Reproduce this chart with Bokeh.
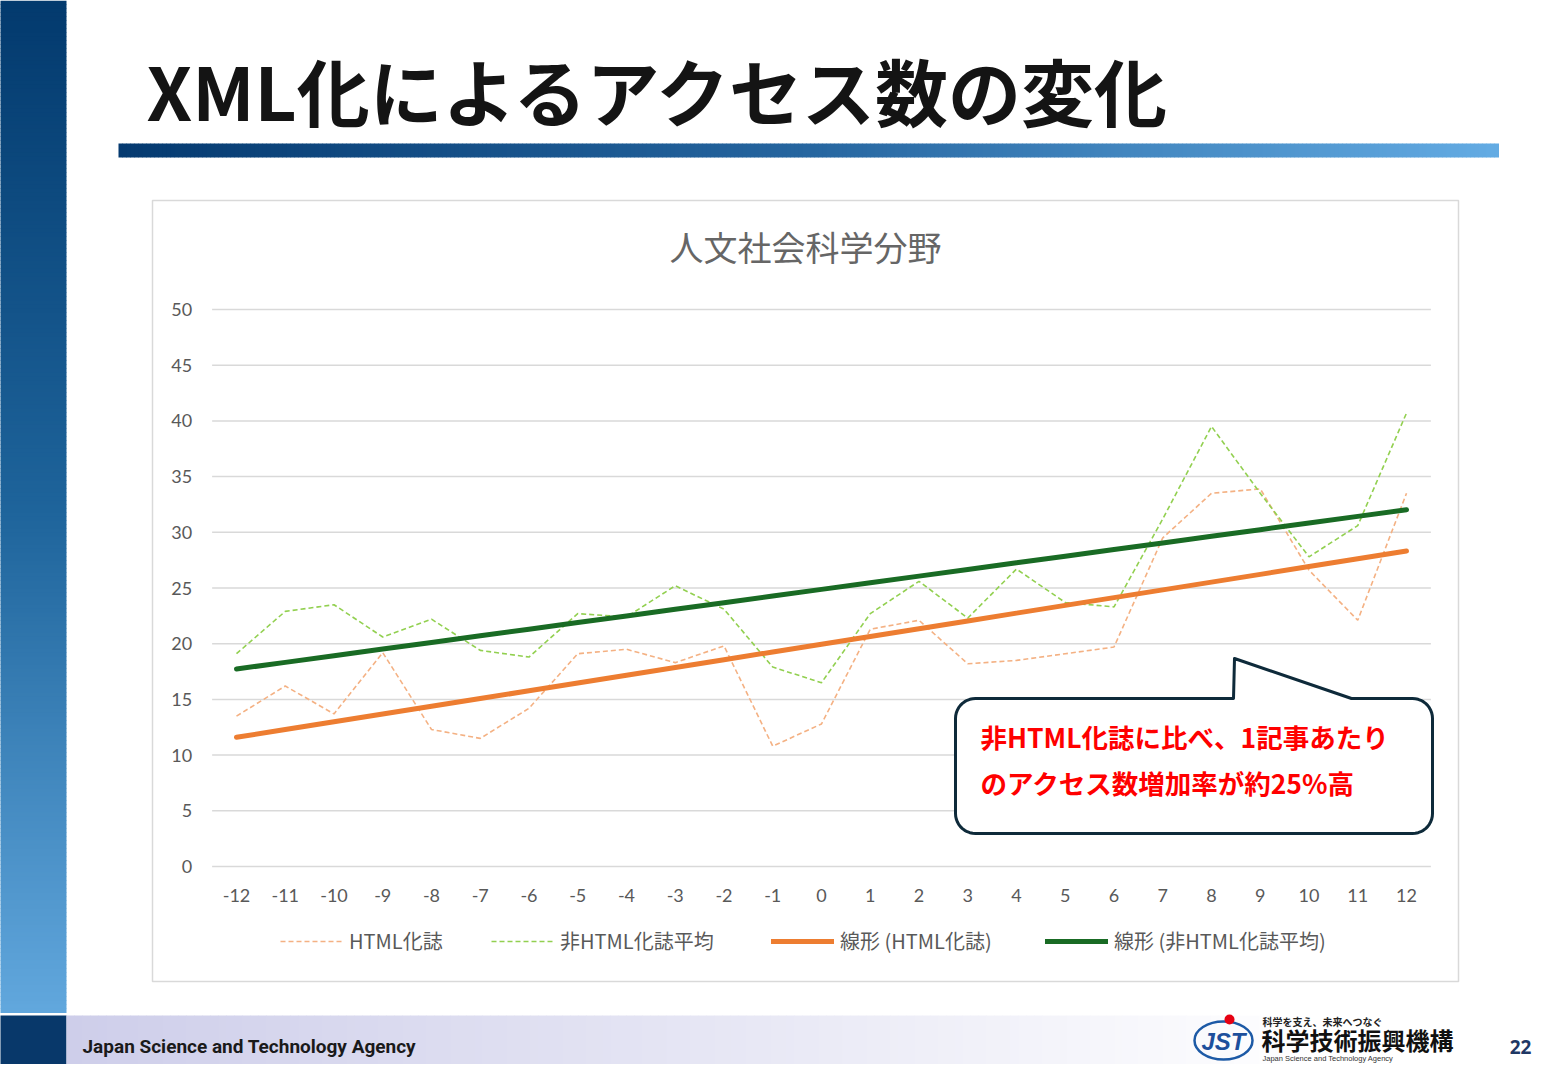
import numpy as np
from bokeh.plotting import figure
from bokeh.models import Range1d, Legend, LegendItem
from bokeh.core.properties import value
from bokeh.embed import file_html
from bokeh.resources import INLINE

# ---------------- data ----------------
months = list(range(-12, 13))
html_journals = [13.5, 16.2, 13.7, 19.2, 12.3, 11.5, 14.2, 19.1, 19.5, 18.3, 19.8, 10.8, 12.8,
                 21.3, 22.1, 18.2, 18.5, 19.1, 19.7, 29.5, 33.5, 33.9, 26.6, 22.1, 33.5]
non_html_avg = [19.1, 22.9, 23.5, 20.6, 22.2, 19.4, 18.8, 22.7, 22.4, 25.2, 23.1, 17.9, 16.5,
                22.7, 25.6, 22.3, 26.7, 23.7, 23.3, 31.2, 39.5, 33.5, 27.8, 30.6, 40.7]
y_ticks = [0, 5, 10, 15, 20, 25, 30, 35, 40, 45, 50]
x_tick_labels = [str(m) for m in months]
series_names = ["HTML化誌", "非HTML化誌平均", "線形 (HTML化誌)", "線形 (非HTML化誌平均)"]
slide_title = "XML化によるアクセス数の変化"
chart_title = "人文社会科学分野"
callout_lines = ["非HTML化誌に比べ、1記事あたり", "のアクセス数増加率が約25%高"]

# linear trend lines (Excel "線形" trendline)
fit_html = np.polyfit(months, html_journals, 1)
fit_non = np.polyfit(months, non_html_avg, 1)
trend_html = list(np.polyval(fit_html, months))
trend_non = list(np.polyval(fit_non, months))

# ---------------- layout constants (slide pixels) ----------------
W, H = 1544, 1064          # canvas
OFF = 0                    # canvas origin in slide pixels
X_FIRST, X_LAST = 236, 1406   # pixel of first / last category
Y_ZERO, Y_TOP = 866, 309      # pixel of y=0 and y=50
px_per_x = (X_LAST - X_FIRST) / (months[-1] - months[0])
px_per_y = (Y_ZERO - Y_TOP) / (y_ticks[-1] - y_ticks[0])

x_start = months[0] - (X_FIRST - OFF) / px_per_x
x_end = months[-1] + (OFF + W - X_LAST) / px_per_x
y_start = 0 - (OFF + H - Y_ZERO) / px_per_y
y_end = 0 + (Y_ZERO - OFF) / px_per_y

p = figure(width=W, height=H, output_backend="svg", toolbar_location=None,
           x_axis_location=None, y_axis_location=None, min_border=0,
           x_range=Range1d(x_start, x_end), y_range=Range1d(y_start, y_end))
p.outline_line_color = None
p.background_fill_color = "white"
p.border_fill_color = "white"
p.xgrid.grid_line_color = None
p.ygrid.grid_line_color = None
p.extra_x_ranges = {"px": Range1d(OFF, OFF + W)}
p.extra_y_ranges = {"py": Range1d(OFF + H, OFF)}
PX = dict(x_range_name="px", y_range_name="py")

JP_NAME = "Noto Sans CJK JP"
JP = value(JP_NAME)


def lerp_colors(stops, t):
    t = np.clip(t, 0, 1)
    for i in range(len(stops) - 1):
        t0, c0 = stops[i]
        t1, c1 = stops[i + 1]
        if t <= t1:
            f = (t - t0) / (t1 - t0) if t1 > t0 else 0
            c = [int(round(c0[k] + (c1[k] - c0[k]) * f)) for k in range(3)]
            return "#%02x%02x%02x" % tuple(c)
    c = stops[-1][1]
    return "#%02x%02x%02x" % tuple(c)


# ---------------- slide decorations ----------------
# left sidebar (vertical gradient)
side_stops = [(0.0, (3, 58, 110)), (0.5, (30, 100, 155)), (1.0, (98, 168, 222))]
edges = np.arange(0, 1016, 4)
p.quad(left=-2, right=66, top=edges[:-1], bottom=edges[1:] + 0.5,
       fill_color=[lerp_colors(side_stops, e / 1015) for e in edges[:-1]],
       line_color=None, **PX)
# footer
p.quad(left=-2, right=66, top=1015, bottom=1080, fill_color="#08386a", line_color=None, **PX)
foot_stops = [(0.0, (206, 206, 234)), (0.55, (232, 232, 245)), (1.0, (255, 255, 255))]
fe = np.arange(66, 1561, 8)
p.quad(left=fe[:-1], right=fe[1:] + 0.5, top=1015, bottom=1080,
       fill_color=[lerp_colors(foot_stops, (e - 66) / 1250) for e in fe[:-1]],
       line_color=None, **PX)
p.text(x=[82], y=[1046], text=["Japan Science and Technology Agency"],
       text_font=value("Roboto"), text_font_style="bold",
       text_font_size="19px", text_color="#1a1a1a", text_align="left",
       text_baseline="middle", **PX)

# title and underline bar
p.text(x=[146], y=[88], text=[slide_title], text_font=JP, text_font_style="bold",
       text_font_size="73px", text_color="#141414", text_align="left",
       text_baseline="middle", **PX)
bar_stops = [(0.0, (5, 58, 112)), (0.5, (38, 102, 160)), (1.0, (100, 172, 228))]
be = np.arange(118, 1501, 4)
p.quad(left=be[:-1], right=be[1:] + 0.5, top=143, bottom=157,
       fill_color=[lerp_colors(bar_stops, (e - 118) / 1382) for e in be[:-1]],
       line_color=None, **PX)

# chart box
p.quad(left=[152], right=[1458], top=[200], bottom=[981], fill_color="white",
       line_color="#d9d9d9", line_width=1.5, **PX)
p.text(x=[805], y=[246], text=[chart_title], text_font=JP, text_font_size="34px",
       text_color="#666666", text_align="center", text_baseline="middle", **PX)

# ---------------- chart ----------------
half = 0.5
p.segment(x0=[months[0] - half] * len(y_ticks), x1=[months[-1] + half] * len(y_ticks),
          y0=y_ticks, y1=y_ticks, line_color="#d9d9d9", line_width=1.5)
p.text(x=[months[0] - half] * len(y_ticks), y=y_ticks, text=[str(t) for t in y_ticks],
       x_offset=-20, text_font=value("Lato"), text_font_size="18px", text_color="#595959",
       text_align="right", text_baseline="middle")
p.text(x=months, y=[0] * len(months), text=x_tick_labels, y_offset=29,
       text_font=value("Lato"), text_font_size="18px", text_color="#595959",
       text_align="center", text_baseline="middle")

r1 = p.line(months, html_journals, line_color="#f4b183", line_width=1.6, line_dash="5 3")
r2 = p.line(months, non_html_avg, line_color="#92d050", line_width=1.6, line_dash="5 3")
r3 = p.line(months, trend_html, line_color="#ed7d31", line_width=5, line_cap="round")
r4 = p.line(months, trend_non, line_color="#196b24", line_width=5, line_cap="round")

leg_x = [280, 491, 771, 1045]
for name, rend, lx in zip(series_names, [r1, r2, r3, r4], leg_x):
    leg = Legend(items=[LegendItem(label=name, renderers=[rend])],
                 location=(lx - OFF, (OFF + H - 942) - 13), orientation="horizontal",
                 glyph_width=63, glyph_height=26, label_standoff=6, padding=0, margin=0,
                 spacing=0, border_line_alpha=0, background_fill_alpha=0,
                 label_text_font=JP_NAME, label_text_font_size="20px",
                 label_text_color="#595959", label_text_baseline="middle")
    p.add_layout(leg)

# ---------------- callout ----------------
l, r, t, b, rad = 955, 1432, 698, 833, 20
xs, ys = [l + rad, 1233, 1234, 1351, r - rad], [t, t, 658, t, t]
for cx, cy, a0, a1 in [(r - rad, t + rad, -90, 0), (r - rad, b - rad, 0, 90),
                       (l + rad, b - rad, 90, 180), (l + rad, t + rad, 180, 270)]:
    th = np.radians(np.linspace(a0, a1, 12))
    xs += list(cx + rad * np.cos(th))
    ys += list(cy + rad * np.sin(th))
p.patch(xs, ys, fill_color="white", line_color="#0e2a3a", line_width=3,
        line_join="round", **PX)
p.text(x=[980, 980], y=[736, 782], text=callout_lines, text_font=JP, text_font_style="bold",
       text_font_size="26.5px", text_color="#ff0000", text_align="left",
       text_baseline="middle", **PX)

# ---------------- JST logo / page number ----------------
p.ellipse(x=[1223], y=[1040], width=[58], height=[38], fill_color=None,
          line_color="#1d5aa6", line_width=2.5, **PX)
p.scatter(x=[1229], y=[1019], size=10, fill_color="#e60012", line_color=None, **PX)
p.text(x=[1223], y=[1041], text=["JST"], text_font=value("Liberation Sans"),
       text_font_style="bold italic", text_font_size="24px", text_color="#1d4f9c",
       text_align="center", text_baseline="middle", **PX)
p.text(x=[1262], y=[1021], text=["科学を支え、未来へつなぐ"], text_font=JP,
       text_font_style="bold", text_font_size="10px", text_color="#222222",
       text_align="left", text_baseline="middle", **PX)
p.text(x=[1261], y=[1039], text=["科学技術振興機構"], text_font=JP, text_font_style="bold",
       text_font_size="24px", text_color="#111111", text_align="left",
       text_baseline="middle", **PX)
p.text(x=[1262], y=[1058], text=["Japan Science and Technology Agency"],
       text_font=value("Liberation Sans"), text_font_size="7.5px", text_color="#333333",
       text_align="left", text_baseline="middle", **PX)
p.text(x=[1520], y=[1046], text=["22"], text_font=value("Open Sans"), text_font_style="bold",
       text_font_size="19px", text_color="#1f3864", text_align="center",
       text_baseline="middle", **PX)

open("out.html", "w").write(file_html(p, INLINE))
